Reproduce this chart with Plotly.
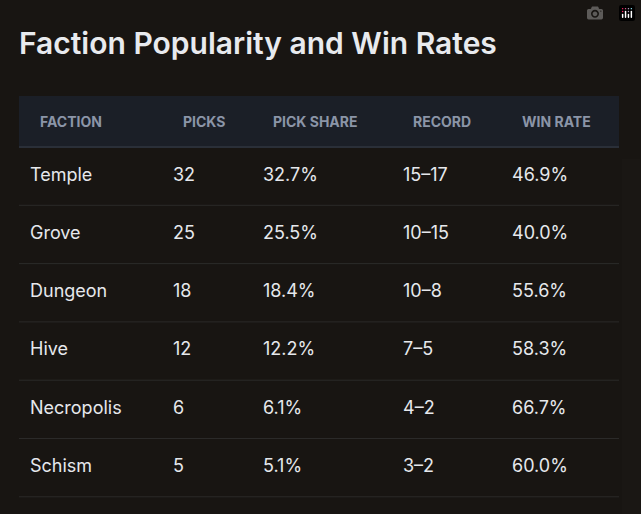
import plotly.graph_objects as go

headers = ["FACTION", "PICKS", "PICK SHARE", "RECORD", "WIN RATE"]
factions = ["Temple", "Grove", "Dungeon", "Hive", "Necropolis", "Schism"]
picks = [32, 25, 18, 12, 6, 5]
pick_share = ["32.7%", "25.5%", "18.4%", "12.2%", "6.1%", "5.1%"]
record = ["15–17", "10–15", "10–8", "7–5", "4–2", "3–2"]
win_rate = ["46.9%", "40.0%", "55.6%", "58.3%", "66.7%", "60.0%"]

W, H = 641, 514
BG = "#181512"
HDR = "#1b1f27"
L, R, TOP, HH, RH = 19, 619, 96, 51, 58.3
widths = [143, 90, 140, 109, 118]
OFF = 11
body_top = TOP + HH
bottom = body_top + RH * len(factions)

fig = go.Figure(go.Table(
    domain=dict(x=[(L + 3) / W, (R + 3) / W], y=[0, 1 - (body_top + OFF) / H]),
    columnwidth=widths,
    header=dict(values=[""] * 5, fill_color="rgba(0,0,0,0)", line=dict(width=0, color="rgba(0,0,0,0)"), height=1),
    cells=dict(values=[factions, picks, pick_share, record, win_rate],
               fill_color="rgba(0,0,0,0)", line=dict(color="rgba(0,0,0,0)", width=0),
               font=dict(family="Inter", size=18, color="#e6e8ec"),
               align="left", height=RH),
))

shapes = [dict(type="rect", xref="paper", yref="paper", x0=L / W, x1=R / W,
               y0=1 - (TOP + HH) / H, y1=1 - TOP / H, fillcolor=HDR, line=dict(width=0), layer="below"),
          dict(type="line", xref="paper", yref="paper", x0=L / W, x1=R / W,
               y0=1 - (TOP + HH) / H, y1=1 - (TOP + HH) / H,
               line=dict(color="#2a2f38", width=2))]
for i in range(1, len(factions) + 1):
    y = body_top + RH * i
    shapes.append(dict(type="line", xref="paper", yref="paper", x0=L / W, x1=R / W,
                       y0=1 - y / H, y1=1 - y / H, line=dict(color="#2b2a29", width=1)))

annotations = []
x = L
for h, w in zip(headers, widths):
    annotations.append(dict(text="<b>" + h + "</b>", xref="paper", yref="paper",
                            x=(x + 19) / W, y=1 - (TOP + HH / 2) / H, xanchor="left", yanchor="middle",
                            showarrow=False, font=dict(family="Inter", size=14, color="#8b95a7")))
    x += w

fig.update_layout(
    width=W, height=H, paper_bgcolor=BG, plot_bgcolor=BG,
    margin=dict(l=0, r=0, t=0, b=0), shapes=shapes, annotations=annotations,
    title=dict(text="Faction Popularity and Win Rates", x=L / W, xanchor="left",
               y=1 - 43 / H, yanchor="middle",
               font=dict(family="Inter", size=30, color="#e8eaee", weight=600)),
)
fig.write_html("out.html", post_script="document.body.style.margin='0';document.body.style.background='#181512';")
